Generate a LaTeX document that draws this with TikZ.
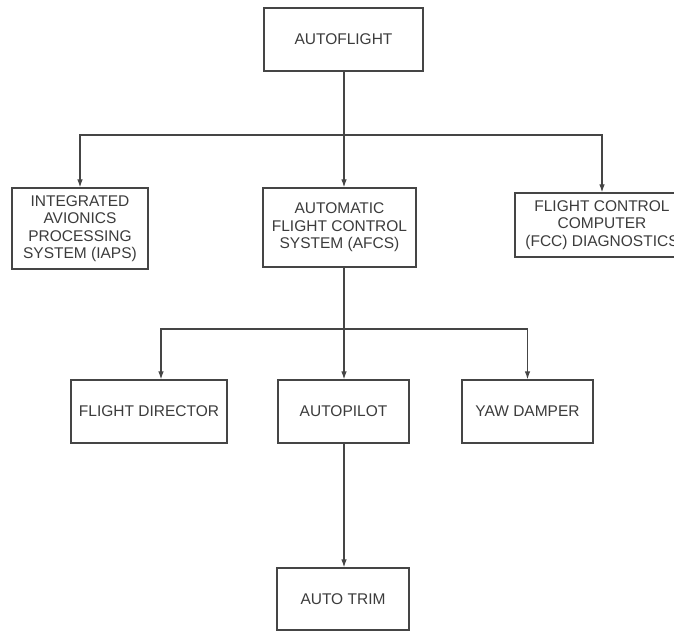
\documentclass[tikz,border=0pt]{standalone}
\usepackage{fontspec}
\setmainfont{Liberation Sans}
\usetikzlibrary{arrows.meta}
\definecolor{ink}{HTML}{454545}
\definecolor{txt}{HTML}{3C3C3C}
\begin{document}
\begin{tikzpicture}[x=1pt,y=-1pt,
  box/.style={draw=ink, line width=1.2pt, rectangle, inner sep=0pt, align=center,
    text=txt, font=\fontsize{15.5}{17.5}\selectfont},
  link/.style={draw=ink, line width=1.2pt},
  arr/.style={link, -{Latex[length=8pt,width=5.5pt]}}]
\clip (0,0) rectangle (674,631);
\fill[white] (0,0) rectangle (674,631);

% boxes
\node[box, minimum width=159pt, minimum height=63pt] (af) at (343.5,39.5) {AUTOFLIGHT};
\node[box, minimum width=136pt, minimum height=81pt] (iaps) at (80,228.5)
  {INTEGRATED\\AVIONICS\\PROCESSING\\SYSTEM (IAPS)};
\node[box, minimum width=153pt, minimum height=79pt] (afcs) at (339.5,227.5)
  {AUTOMATIC\\FLIGHT CONTROL\\SYSTEM (AFCS)};
\node[box, minimum width=174pt, minimum height=64pt] (fcc) at (602,225)
  {FLIGHT CONTROL\\COMPUTER\\(FCC) DIAGNOSTICS};
\node[box, minimum width=156pt, minimum height=63pt] (fd) at (149,411.5) {FLIGHT DIRECTOR};
\node[box, minimum width=131pt, minimum height=63pt] (ap) at (343.5,411.5) {AUTOPILOT};
\node[box, minimum width=131pt, minimum height=63pt] (yd) at (527.5,411.5) {YAW DAMPER};
\node[box, minimum width=132pt, minimum height=62pt] (trim) at (343,599) {AUTO TRIM};

% first-level distribution
\coordinate (bus1) at (344,135);
\draw[link] (af.south -| bus1) -- (bus1);
\draw[arr] (bus1) -| (iaps.north);
\draw[arr] (bus1) -| (fcc.north);
\draw[arr] (bus1) -- (bus1 |- afcs.north);

% second-level distribution
\coordinate (bus2) at (344,329);
\coordinate (fdin) at ([xshift=12pt]fd.north);
\draw[link] (afcs.south -| bus2) -- (bus2);
\draw[arr] (bus2) -| (fdin);
\draw[arr] (bus2) -| (yd.north);
\draw[arr] (bus2) -- (bus2 |- ap.north);

% autopilot to auto trim
\draw[arr] (ap.south -| bus2) -- (bus2 |- trim.north);
\end{tikzpicture}
\end{document}
